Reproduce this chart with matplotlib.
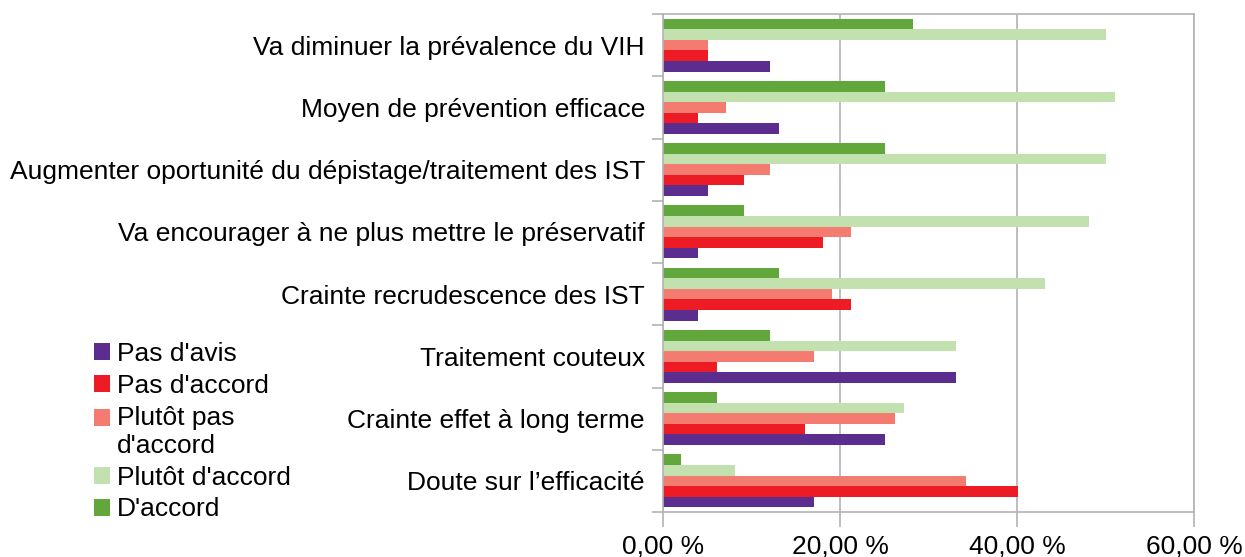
import numpy as np
import matplotlib
matplotlib.use("Agg")
import matplotlib.pyplot as plt
from matplotlib.patches import Patch, Rectangle
from matplotlib.legend_handler import HandlerPatch

plt.rcParams['font.family'] = ['Liberation Sans', 'DejaVu Sans']
plt.rcParams['font.size'] = 19

categories = [
    "Va diminuer la prévalence du VIH",
    "Moyen de prévention efficace",
    "Augmenter oportunité du dépistage/traitement des IST",
    "Va encourager à ne plus mettre le préservatif",
    "Crainte recrudescence des IST",
    "Traitement couteux",
    "Crainte effet à long terme",
    "Doute sur l\u2019efficacité",
]

series_names = ["Pas d'avis", "Pas d'accord", "Plutôt pas\nd'accord",
                "Plutôt d'accord", "D'accord"]

pas_avis = [12.1, 13.1, 5.1, 4.0, 4.0, 33.1, 25.1, 17.1]
pas_accord = [5.1, 4.0, 9.1, 18.1, 21.2, 6.1, 16.1, 40.1]
plutot_pas = [5.1, 7.1, 12.1, 21.2, 19.1, 17.1, 26.2, 34.2]
plutot_accord = [50.1, 51.1, 50.1, 48.1, 43.2, 33.1, 27.2, 8.1]
accord = [28.2, 25.1, 25.1, 9.1, 13.1, 12.1, 6.1, 2.0]

colors = ["#5B2D8E", "#ED1C24", "#F47B6F", "#C3E1AE", "#62A73B"]

series = [pas_avis, pas_accord, plutot_pas, plutot_accord, accord]

fig = plt.figure(figsize=(12.45, 5.57), dpi=100)
ax = fig.add_axes([663 / 1245, 1 - 512 / 557, (1194 - 663) / 1245, (512 - 14) / 557])

n = len(categories)
y = np.arange(n)[::-1]
bar_h = 0.17
offsets = (np.arange(5) - 2) * bar_h

for vals, off, c in zip(series, offsets, colors):
    ax.barh(y + off, vals, height=bar_h, color=c, zorder=2)

ax.set_xlim(0, 60)
ax.set_ylim(-0.5, n - 0.5)
ax.set_xticks([0, 20, 40, 60])
ax.set_xticklabels(["0,00 %", "20,00 %", "40,00 %", "60,00 %"])
ax.set_yticks(y)
ax.set_yticklabels(categories)
ax.set_yticks(np.arange(n + 1) - 0.5, minor=True)

grid_c = "#B3B3B3"
ax.grid(axis='x', color=grid_c, linewidth=1.2, zorder=0)
for s in ax.spines.values():
    s.set_color(grid_c)
    s.set_linewidth(1.2)
ax.tick_params(axis='y', which='major', length=0, pad=13)
ax.tick_params(axis='y', which='minor', length=8, color=grid_c, width=1.2)
ax.tick_params(axis='x', length=11, color=grid_c, width=1.2, pad=5)


# square of a two-line legend entry sits beside its first line
def top_square(legend, orig_handle, xdescent, ydescent, width, height, fontsize):
    return Rectangle((-xdescent, -ydescent + 0.55 * fontsize), width, height)


handles = [Patch(facecolor=c, label=l) for c, l in zip(colors, series_names)]
fig.legend(handles=handles, loc='upper left', bbox_to_anchor=(94 / 1245, 1 - 342 / 557),
           frameon=False, handlelength=0.6, handleheight=0.6, handletextpad=0.28,
           labelspacing=0.3, borderaxespad=0, borderpad=0,
           handler_map={handles[2]: HandlerPatch(patch_func=top_square)})

fig.savefig("out.png", dpi=100)
